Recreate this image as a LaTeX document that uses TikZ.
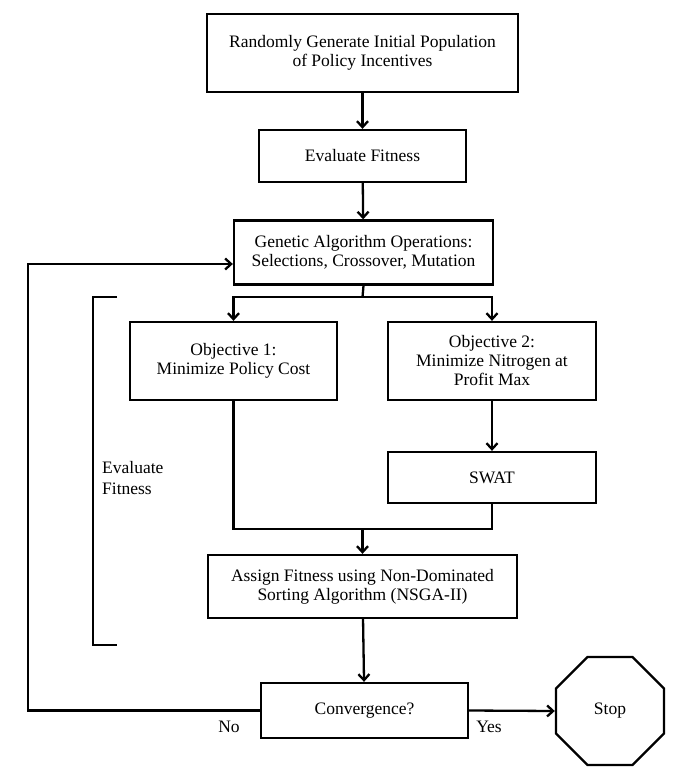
\documentclass[tikz,border=0pt]{standalone}
\usepackage{fontspec}
\setmainfont{Liberation Serif}
\usepackage{tikz}
\usepackage{xcolor}
\usetikzlibrary{positioning,arrows.meta,calc,shapes.geometric}
\definecolor{PageWhite}{HTML}{FFFFFF}
\definecolor{InkBlack}{HTML}{000000}
\newcommand{\flowbox}[5]{\node[flowstep,minimum width=#3,minimum height=#4] (#1) at (#2) {#5};}
\tikzset{
  flowstep/.style={draw=InkBlack,line width=2.3pt,fill=PageWhite,align=center,inner sep=3pt,font=\fontsize{17.5}{19}\selectfont},
  flowarrow/.style={draw=InkBlack,line width=2.3pt,-{Straight Barb[length=6pt,width=11pt,line width=2.3pt]}},
  flowline/.style={draw=InkBlack,line width=2.3pt},
  flowlabel/.style={font=\fontsize{17.5}{21}\selectfont,text=InkBlack,inner sep=0pt}
}

\begin{document}
\begin{tikzpicture}[x=1pt,y=-1pt]
  \useasboundingbox[fill=PageWhite] (0,0) rectangle (692,774);
  \flowbox{init}{362.5,53}{311pt}{78pt}{Randomly Generate Initial Population\\of Policy Incentives}
  \flowbox{eval}{362.5,156}{207pt}{52pt}{Evaluate Fitness}
  \flowbox{ga}{363.5,252.5}{259pt}{64pt}{Genetic Algorithm Operations:\\Selections, Crossover, Mutation}
  \flowbox{obj1}{233.5,361}{207pt}{78pt}{Objective 1:\\Minimize Policy Cost}
  \flowbox{obj2}{492,361}{208pt}{78pt}{Objective 2:\\Minimize Nitrogen at\\Profit Max}
  \flowbox{swat}{492,477.5}{208pt}{51pt}{SWAT}
  \flowbox{assign}{362.5,586.5}{309pt}{63pt}{Assign Fitness using Non-Dominated\\Sorting Algorithm (NSGA-II)}
  \flowbox{conv}{364.5,710.5}{207pt}{55pt}{Convergence?}
  \node[flowstep,regular polygon,regular polygon sides=8,minimum size=117pt,inner sep=0pt] (stop) at (610,711) {Stop};
  % bracket around the evaluation step
  \draw[flowline] (117,297) -- (93,297) -- (93,645) -- (117,645);
  \node[flowlabel,anchor=west,align=left] (evallabel) at (102,478) {Evaluate\\Fitness};
  % connectors
  \coordinate (fork) at (362.5,297);
  \coordinate (join) at (362.5,529);
  \coordinate (back) at (28,264);
  \draw[flowarrow] (init) -- (eval);
  \draw[flowarrow] (eval) -- (ga);
  \draw[flowline] (ga.south) -- (fork);
  \draw[flowarrow] (fork) -| (obj1.north);
  \draw[flowarrow] (fork) -| (obj2.north);
  \draw[flowarrow] (obj2) -- (swat);
  \draw[flowline] (obj1.south) |- (join);
  \draw[flowline] (swat.south) |- (join);
  \draw[flowarrow] (join) -- (assign.north);
  \draw[flowarrow] (assign) -- (conv);
  \draw[flowarrow] (conv.west) -| (back) -- (ga.west |- back);
  \draw[flowarrow] (conv.east) -- (stop.west);
  \node[flowlabel] (nolabel) at (229,727) {No};
  \node[flowlabel] (yeslabel) at (489,727) {Yes};
\end{tikzpicture}
\end{document}
